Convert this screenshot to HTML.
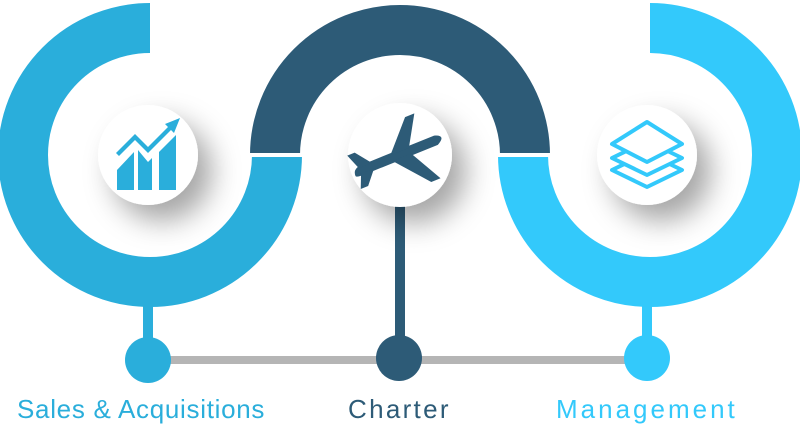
<!DOCTYPE html>
<html><head><style>
body{margin:0;background:#fff;width:800px;height:427px;overflow:hidden;font-family:"Liberation Sans",sans-serif}
.t{position:absolute;top:394px;font-size:26px;white-space:nowrap}
</style></head><body>
<svg width="800" height="427" style="position:absolute;left:0;top:0">
<defs>
<filter id="sh" x="-60%" y="-60%" width="240%" height="240%">
<feDropShadow dx="14" dy="16" stdDeviation="14" flood-color="#000" flood-opacity="0.35"/>
</filter>
</defs>
<line x1="148" y1="360" x2="647" y2="360" stroke="#b5b5b5" stroke-width="8"/>
<rect x="143" y="290" width="10" height="70" fill="#2aaedb"/>
<rect x="395" y="190" width="10" height="170" fill="#2d5b77"/>
<rect x="642" y="290" width="10" height="70" fill="#33c9fb"/>
<circle cx="148" cy="360" r="23" fill="#2aaedb"/>
<circle cx="399" cy="358" r="23" fill="#2d5b77"/>
<circle cx="647" cy="358" r="23" fill="#33c9fb"/>
<path d="M275,155 A125,125 0 0 1 525,155" fill="none" stroke="#2d5b77" stroke-width="50"/>
<path d="M150,28 A127,127 0 1 0 277,155" fill="none" stroke="#2aaedb" stroke-width="50"/>
<path d="M523,155 A127,127 0 1 0 650,28" fill="none" stroke="#33c9fb" stroke-width="50"/>
<rect x="248" y="153" width="304" height="4" fill="#fff"/>
<circle cx="148" cy="155" r="50" fill="#fff" filter="url(#sh)"/>
<circle cx="400" cy="155" r="52" fill="#fff" filter="url(#sh)"/>
<circle cx="647" cy="155" r="50" fill="#fff" filter="url(#sh)"/>
<g fill="#2aaedb">
<path d="M117,190 V170 L134,152 V190 Z"/>
<path d="M138,190 V150 L148,162 L152,158 V190 Z"/>
<path d="M159,190 V152 L176,135 V190 Z"/>
<path d="M116,153 L135,134 L148,147 L168,127 L165,124 L180,118 L174,133 L171,130 L148,153 L135,140 L119,156 Z"/>
</g>
<g fill="#2d5b77" transform="rotate(-22 400 158)">
<path d="M352,158 Q352,150 362,150 L440,150 Q452,154 440,160 L362,160 Q352,160 352,158 Z"/>
<path d="M392,152 L420,122 L430,122 L412,152 Z"/>
<path d="M392,158 L420,192 L430,192 L412,158 Z"/>
<path d="M358,152 L352,136 L360,136 L372,152 Z"/>
<path d="M358,158 L352,172 L360,172 L372,158 Z"/>
</g>
<g fill="#fff" stroke="#33c9fb" stroke-width="4" stroke-linejoin="round">
<path d="M612,170 L647,153 L682,170 L647,187 Z"/>
<path d="M612,158 L647,141 L682,158 L647,175 Z"/>
<path d="M612,144 L647,122 L682,144 L647,162 Z"/>
</g>
</svg>
<div class="t" style="left:17px;color:#2aaedb;letter-spacing:0.7px">Sales &amp; Acquisitions</div>
<div class="t" style="left:348px;color:#2d5b77;letter-spacing:2.3px">Charter</div>
<div class="t" style="left:556px;color:#33c9fb;letter-spacing:3px">Management</div>
</body></html>
